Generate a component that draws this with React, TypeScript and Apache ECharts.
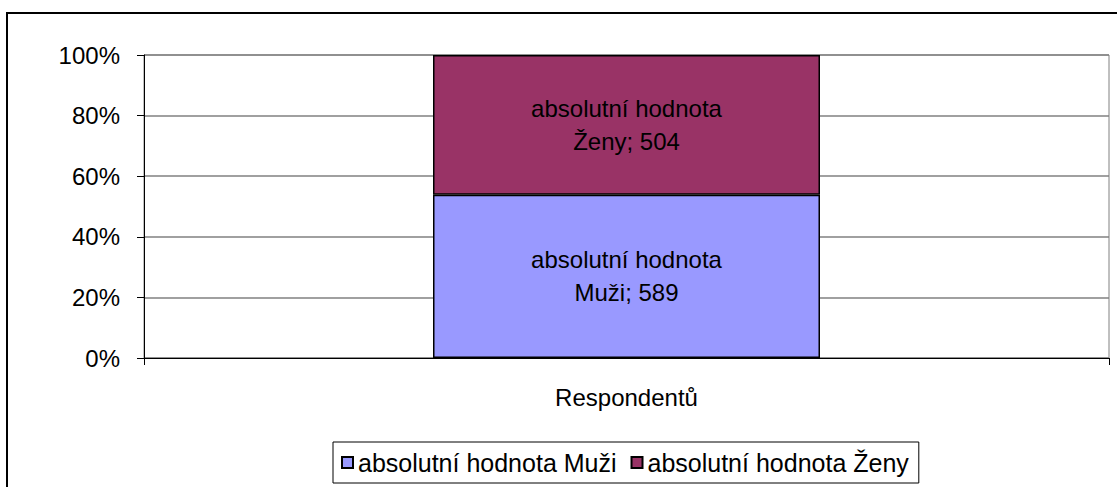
import React, { useEffect, useRef } from "react";
import * as echarts from "echarts";

const categories = ["Respondentů"];
const measure = "absolutní hodnota";
const groups = ["Muži", "Ženy"];
const muziValues = [589];
const zenyValues = [504];
const yTicks = [0, 20, 40, 60, 80, 100];

const FONT = "'Liberation Sans', Arial, sans-serif";
const FS = 24;

export default function App() {
  const ref = useRef<HTMLDivElement>(null);
  useEffect(() => {
    if (!ref.current) return;
    const chart = echarts.init(ref.current, undefined, { renderer: "svg" });
    const totals = categories.map((_, i) => muziValues[i] + zenyValues[i]);
    const pct = (arr: number[]) => arr.map((v, i) => (v / totals[i]) * 100);
    const raw = [muziValues, zenyValues];
    const colors = ["#9999FF", "#993366"];
    const seriesNames = groups.map((g) => measure + " " + g);
    chart.setOption({
      animation: false,
      textStyle: { fontFamily: FONT },
      grid: {
        left: 144,
        top: 55,
        right: 8,
        bottom: 129,
        show: true,
        borderColor: "#808080",
        borderWidth: 1,
        backgroundColor: "transparent",
      },
      graphic: [
        {
          type: "rect",
          shape: { x: 7, y: 13, width: 1200, height: 600 },
          style: { fill: "none", stroke: "#000", lineWidth: 2 },
          silent: true,
        },
      ],
      legend: {
        data: seriesNames,
        left: 333,
        top: 442,
        orient: "horizontal",
        padding: [8, 10, 8, 8],
        borderColor: "#000",
        borderWidth: 1,
        itemWidth: 11,
        itemHeight: 11,
        itemGap: 14,
        icon: "rect",
        textStyle: { fontSize: 25, color: "#000", fontFamily: FONT },
      },
      xAxis: {
        type: "category",
        data: categories,
        boundaryGap: true,
        axisLine: { show: true, lineStyle: { color: "#000", width: 1 } },
        axisTick: { show: true, length: 7, lineStyle: { color: "#000" } },
        axisLabel: { fontSize: FS, color: "#000", margin: 27, fontFamily: FONT },
      },
      yAxis: {
        type: "value",
        min: 0,
        max: 100,
        interval: 20,
        axisLine: { show: true, lineStyle: { color: "#000", width: 1 } },
        axisTick: { show: true, length: 7, lineStyle: { color: "#000" } },
        axisLabel: {
          fontSize: FS,
          color: "#000",
          margin: 24,
          fontFamily: FONT,
          formatter: (v: number) => (yTicks.includes(v) ? v + "%" : ""),
        },
        splitLine: { show: true, lineStyle: { color: "#808080", width: 1.5 } },
      },
      series: seriesNames.map((name, si) => ({
        name,
        type: "bar",
        stack: "total",
        barWidth: 387,
        data: pct(raw[si]),
        itemStyle: { color: colors[si], borderColor: "#000", borderWidth: 1.5 },
        label: {
          show: true,
          position: "inside",
          fontSize: FS,
          lineHeight: 33,
          color: "#000",
          fontFamily: FONT,
          align: "center",
          formatter: (p: any) => measure + "\n" + groups[si] + "; " + raw[si][p.dataIndex],
        },
      })),
    });
    return () => chart.dispose();
  }, []);
  return (
    <div
      ref={ref}
      style={{ position: "absolute", left: 0, top: 0, width: 1117, height: 487, background: "#fff" }}
    />
  );
}
